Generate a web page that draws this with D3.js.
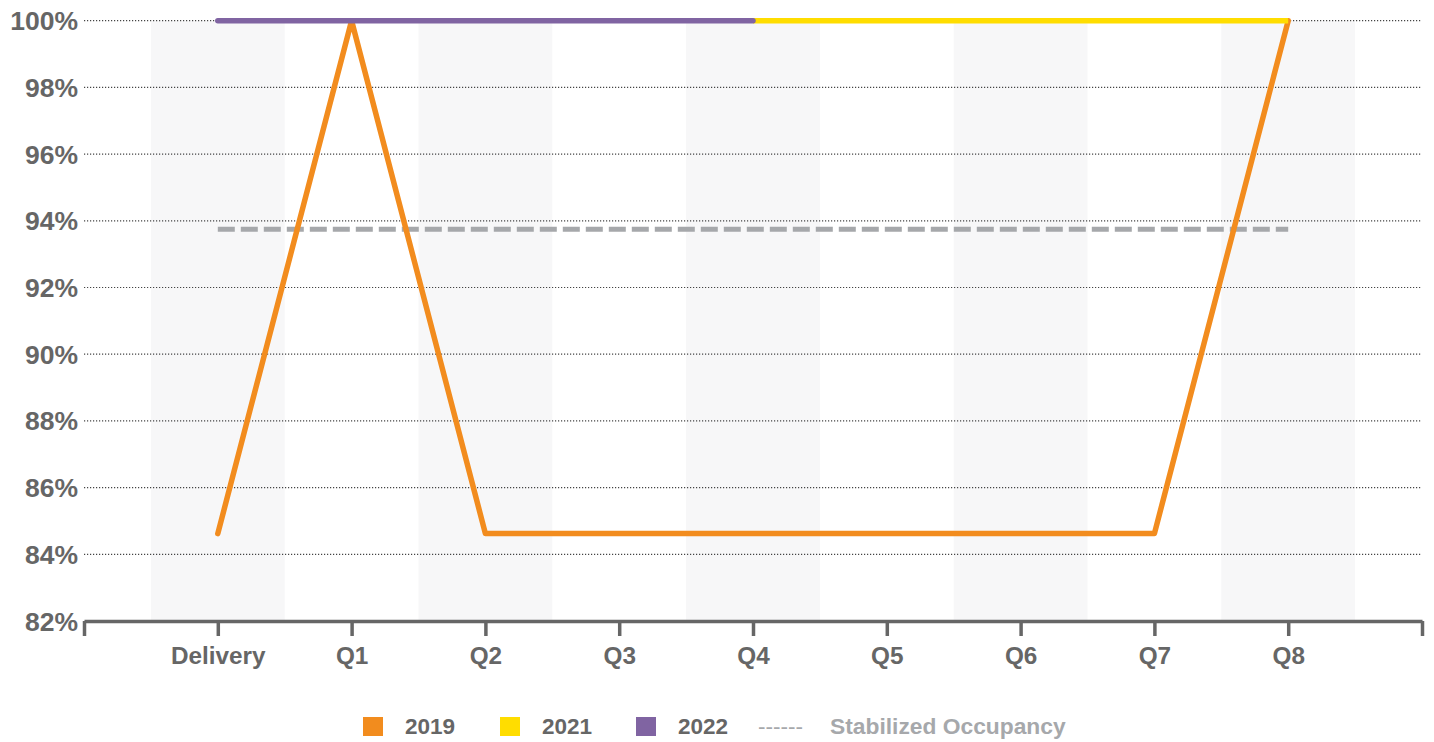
<!DOCTYPE html>
<html>
<head>
<meta charset="utf-8">
<script src="https://cdn.jsdelivr.net/npm/d3@7"></script>
<style>
  html, body { margin: 0; padding: 0; background: #fff; }
  svg { display: block; font-family: "Liberation Sans", Arial, sans-serif; }
</style>
</head>
<body>
<svg id="chart" width="1434" height="742"></svg>
<script>
// Quarter labels along the x axis
const categories = ["Delivery", "Q1", "Q2", "Q3", "Q4", "Q5", "Q6", "Q7", "Q8"];

// Occupancy per cohort (percent); null = no value for that quarter
const occ2019 = [84.62, 100, 84.62, 84.62, 84.62, 84.62, 84.62, 84.62, 100];
const occ2021 = [null, null, null, null, 100, 100, 100, 100, 100];
const occ2022 = [100, 100, 100, 100, 100, null, null, null, null];
const stabilized = [93.75, 93.75, 93.75, 93.75, 93.75, 93.75, 93.75, 93.75, 93.75];

// Y axis ticks
const yTicks = [82, 84, 86, 88, 90, 92, 94, 96, 98, 100];

const legendItems = [
  { label: "2019", color: "#F28C1E", type: "square" },
  { label: "2021", color: "#FFDD00", type: "square" },
  { label: "2022", color: "#8064A2", type: "square" },
  { label: "Stabilized Occupancy", color: "#A6A8AB", type: "dash" }
];

const svg = d3.select("#chart");
const plotLeft = 84, plotRight = 1422, plotTop = 20.7, plotBottom = 621;

// Slots -1..9: an empty slot at each end, categories at 0..8
const x = d3.scaleLinear().domain([-1, 9]).range([plotLeft, plotRight]);
const y = d3.scaleLinear().domain([82, 100]).range([plotBottom, plotTop]);
const step = x(1) - x(0);

// Alternating shaded columns behind even quarters
svg.append("g").selectAll("rect")
  .data(categories.map((c, i) => i).filter(i => i % 2 === 0))
  .join("rect")
  .attr("x", i => x(i) - step / 2)
  .attr("y", plotTop)
  .attr("width", step)
  .attr("height", plotBottom - plotTop)
  .attr("fill", "#F7F7F8");

// Dotted gridlines
svg.append("g").selectAll("line")
  .data(yTicks.filter(t => t > 82))
  .join("line")
  .attr("x1", plotLeft).attr("x2", plotRight)
  .attr("y1", d => y(d)).attr("y2", d => y(d))
  .attr("stroke", "#444")
  .attr("stroke-width", 1.2)
  .attr("stroke-dasharray", "1.2,1.8");

// Y axis labels
svg.append("g").selectAll("text")
  .data(yTicks)
  .join("text")
  .attr("x", 78)
  .attr("y", d => y(d) + 9.5)
  .attr("text-anchor", "end")
  .attr("font-size", 26.5)
  .attr("font-weight", "bold")
  .attr("fill", "#666")
  .text(d => d + "%");

// X axis with ticks at every slot boundary
const xAxis = d3.axisBottom(x)
  .tickValues(d3.range(-1, 10))
  .tickSize(15)
  .tickSizeOuter(0)
  .tickFormat(d => categories[d] || "");
const gx = svg.append("g")
  .attr("transform", `translate(0,${plotBottom})`)
  .call(xAxis);
gx.select(".domain").attr("stroke", "#666").attr("stroke-width", 3.5);
gx.selectAll(".tick line").attr("stroke", "#666").attr("stroke-width", 3.5);
gx.selectAll(".tick text")
  .attr("y", 26)
  .attr("font-size", 24.3)
  .attr("font-weight", "bold")
  .attr("font-family", "Liberation Sans, Arial, sans-serif")
  .attr("fill", "#666");

const line = d3.line()
  .defined(d => d != null)
  .x((d, i) => x(i))
  .y(d => y(d));

// Stabilized occupancy reference line
svg.append("path")
  .datum(stabilized)
  .attr("d", line)
  .attr("fill", "none")
  .attr("stroke", "#A6A8AB")
  .attr("stroke-width", 5)
  .attr("stroke-dasharray", "17,6");

// 2019 cohort
svg.append("path")
  .datum(occ2019)
  .attr("d", line)
  .attr("fill", "none")
  .attr("stroke", "#F28C1E")
  .attr("stroke-width", 5.5)
  .attr("stroke-linejoin", "round")
  .attr("stroke-linecap", "round");

// 2021 cohort
svg.append("path")
  .datum(occ2021)
  .attr("d", line)
  .attr("fill", "none")
  .attr("stroke", "#FFDD00")
  .attr("stroke-width", 5.5);

// 2022 cohort
svg.append("path")
  .datum(occ2022)
  .attr("d", line)
  .attr("fill", "none")
  .attr("stroke", "#8064A2")
  .attr("stroke-width", 5.5)
  .attr("stroke-linecap", "round");

// Legend
const legendX = [363, 500, 636, 758];
const lg = svg.append("g");
legendItems.forEach((item, i) => {
  const g = lg.append("g").attr("transform", `translate(${legendX[i]},717)`);
  if (item.type === "square") {
    g.append("rect").attr("width", 20).attr("height", 19).attr("fill", item.color);
    g.append("text")
      .attr("x", 42).attr("y", 17)
      .attr("font-size", 22.5).attr("font-weight", "bold")
      .attr("fill", "#666")
      .text(item.label);
  } else {
    g.append("text")
      .attr("x", 0).attr("y", 17)
      .attr("font-size", 22.5)
      .attr("fill", item.color)
      .text("------");
    g.append("text")
      .attr("x", 72).attr("y", 17)
      .attr("font-size", 22.8).attr("font-weight", "bold")
      .attr("fill", item.color)
      .text(item.label);
  }
});
</script>
</body>
</html>
